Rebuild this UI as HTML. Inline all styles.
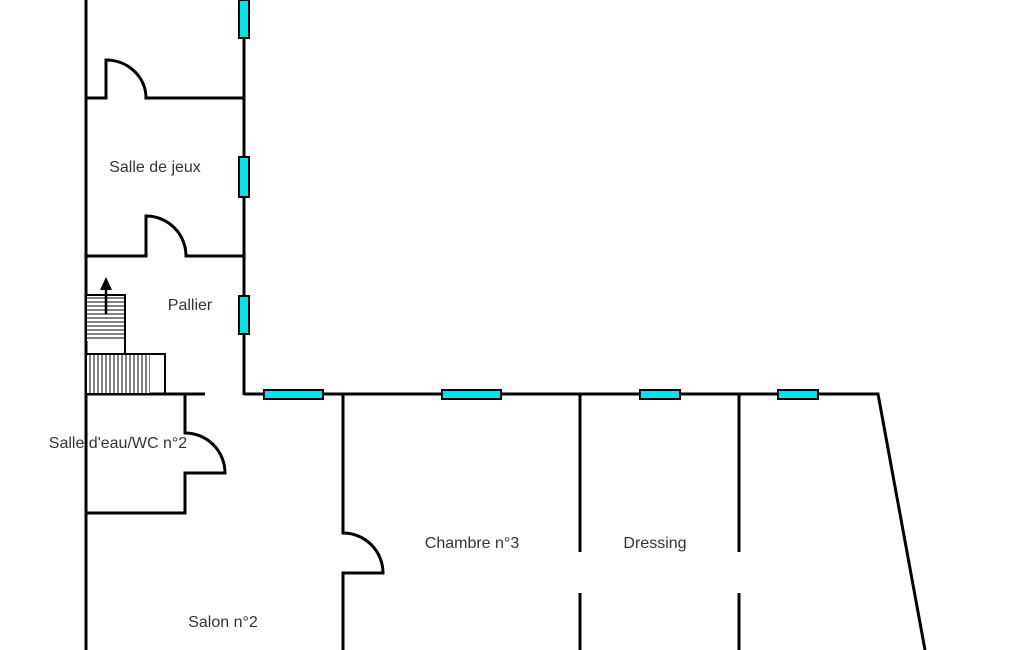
<!DOCTYPE html>
<html><head><meta charset="utf-8"><style>
body{margin:0;background:#fff}
svg{display:block}
text{font-family:"Liberation Sans",sans-serif;font-size:16px;fill:#333}
</style></head><body>
<svg width="1025" height="650" viewBox="0 0 1025 650">
<defs>
<pattern id="hh" width="4" height="4" patternUnits="userSpaceOnUse"><rect width="4" height="4" fill="#fff"/><line x1="0" y1="2" x2="4" y2="2" stroke="#000" stroke-width="1"/></pattern>
<pattern id="vv" width="4" height="4" patternUnits="userSpaceOnUse"><rect width="4" height="4" fill="#fff"/><line x1="2" y1="0" x2="2" y2="4" stroke="#000" stroke-width="1"/></pattern>
</defs>
<g stroke="#000" stroke-width="3" fill="none">
<line x1="86" y1="0" x2="86" y2="650"/>
<line x1="244" y1="0" x2="244" y2="395"/>
<path d="M86 98H106V60A40 38 0 0 1 146 98H244"/>
<path d="M86 256H146V216A40 40 0 0 1 186 256H244"/>
<path d="M86 394H205"/>
<path d="M244 394H878L925 650"/>
<path d="M185 394V433A40 40 0 0 1 225 473H185V513H86"/>
<path d="M343 394V533A40 40 0 0 1 383 573H343V650"/>
<path d="M580 394V552M580 593V650M739 394V552M739 593V650"/>
</g>
<rect x="87" y="296" width="38" height="45" fill="url(#hh)"/>
<rect x="86" y="295" width="39" height="59" fill="none" stroke="#000" stroke-width="2"/>
<rect x="87" y="355" width="63" height="38" fill="url(#vv)"/>
<rect x="86" y="354" width="79" height="40" fill="none" stroke="#000" stroke-width="2"/>
<line x1="106" y1="314" x2="106" y2="288" stroke="#000" stroke-width="2.5"/>
<polygon points="106,277 100,290 112,290" fill="#000"/>
<g fill="#00e5e8" stroke="#000" stroke-width="2">
<rect x="239" y="0" width="10" height="38"/>
<rect x="239" y="157" width="10" height="40"/>
<rect x="239" y="296" width="10" height="38"/>
<rect x="264" y="390" width="59" height="9"/>
<rect x="442" y="390" width="59" height="9"/>
<rect x="640" y="390" width="40" height="9"/>
<rect x="778" y="390" width="40" height="9"/>
</g>
<text x="155" y="172" text-anchor="middle">Salle de jeux</text>
<text x="190" y="310" text-anchor="middle">Pallier</text>
<text x="118" y="448" text-anchor="middle">Salle d'eau/WC n°2</text>
<text x="472" y="548" text-anchor="middle">Chambre n°3</text>
<text x="655" y="548" text-anchor="middle">Dressing</text>
<text x="223" y="627" text-anchor="middle">Salon n°2</text>
</svg>
</body></html>
